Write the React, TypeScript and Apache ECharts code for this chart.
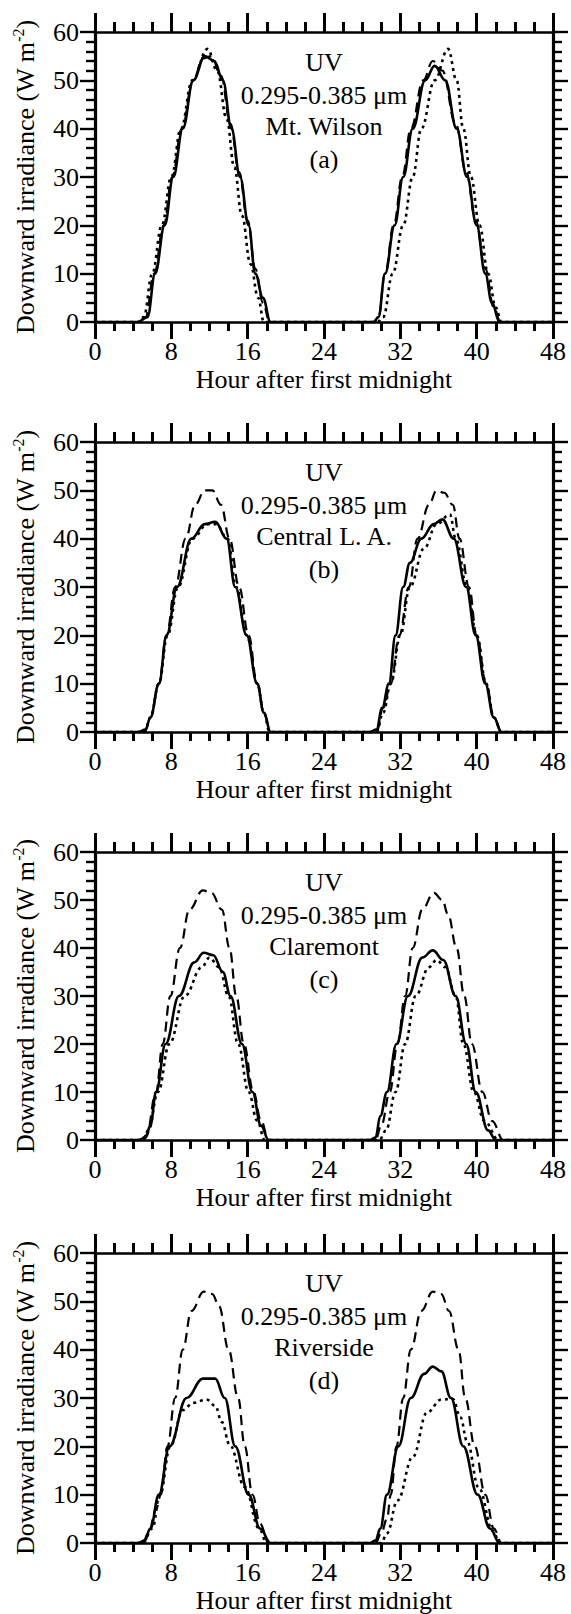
import React, { useEffect, useRef } from "react";
import * as echarts from "echarts";

// ---------- data (hour after first midnight, downward irradiance W m-2) ----------
const X_TICKS_MAX = 48;
const Y_TICKS_MAX = 60;

const SITES = ["Mt. Wilson", "Central L. A.", "Claremont", "Riverside"];
const TAGS = ["(a)", "(b)", "(c)", "(d)"];
const BAND_LABEL = "UV";
const BAND_RANGE = "0.295-0.385 \u03bcm";

const A_SOLID: number[][] = [[0,0],[4.5,0],[5.5,1],[6.3,10],[7.3,20],[8.2,30],[9.2,40],[10.3,50],[11.5,55],[12.5,54],[13.4,50],[14.3,40],[15.2,30],[16.1,20],[16.8,10],[17.6,5],[18.4,0],[29.2,0],[29.7,1],[30.4,10],[31.4,20],[32.3,30],[33.3,40],[34.6,50],[35.6,53],[36.7,50],[37.9,40],[39.0,30],[40.0,20],[40.9,10],[41.6,4],[42.4,0],[48,0]];
const A_DASHED: number[][] = [[0,0],[4.5,0],[5.3,1],[6.2,10],[7.2,20],[8.1,30],[9.1,40],[10.3,50],[11.3,54.5],[12.2,55],[13.2,51],[14.2,41],[15.1,31],[16.0,21],[16.8,11],[17.6,4],[18.3,0],[29.2,0],[29.7,1],[30.4,10],[31.3,20],[32.2,30],[33.1,40],[34.4,50],[35.4,54],[36.4,52],[37.8,41],[38.9,31],[39.9,21],[40.9,11],[41.8,3],[42.5,0],[48,0]];
const A_DOTTED: number[][] = [[0,0],[4.5,0],[5.1,1],[6.0,10],[7.0,20],[8.0,30],[9.0,40],[10.2,50],[11.8,56.5],[12.8,52],[13.8,42],[14.6,32],[15.4,22],[16.3,12],[17.1,5],[17.7,0],[29.6,0],[30.2,1],[31.2,10],[32.3,20],[33.3,30],[34.2,40],[35.6,50],[37.0,56.5],[37.9,50],[38.6,40],[39.4,30],[40.3,20],[41.2,10],[42.0,3],[42.6,0],[48,0]];

const B_SOLID: number[][] = [[0,0],[4.5,0],[5.3,0.5],[5.8,3],[6.7,10],[7.5,20],[8.6,30],[10.1,40],[11.5,43],[12.6,43.5],[13.8,40],[14.7,30],[15.9,20],[17.0,10],[17.7,4],[18.4,0],[28.8,0],[29.5,0.5],[30.1,5],[30.8,10],[31.5,20],[32.3,30],[33.0,35],[34.2,40],[35.5,43],[36.4,44],[37.6,40],[38.9,30],[39.9,20],[40.9,10],[41.8,3],[42.6,0],[48,0]];
const B_DASHED: number[][] = [[0,0],[5.2,0],[5.8,3],[6.7,10],[7.5,20],[8.4,30],[9.5,40],[10.5,47],[11.5,50],[12.3,50],[13.2,47],[14.1,40],[15.1,30],[16.1,20],[17.0,10],[17.7,4],[18.4,0],[29.5,0],[30.2,5],[31.0,10],[31.9,20],[32.9,30],[33.8,40],[35.0,47],[35.8,50],[36.6,49.5],[37.5,47],[38.2,40],[39.2,30],[40.0,20],[41.0,10],[41.8,3],[42.6,0],[48,0]];
const B_DOTTED: number[][] = [[0,0],[5.2,0],[5.8,3],[6.7,10],[7.6,20],[8.7,30],[10.2,40],[11.8,43],[12.7,43],[13.9,40],[14.8,30],[15.9,20],[17.0,10],[17.7,4],[18.3,0],[29.5,0],[30.2,4],[31.0,10],[32.0,20],[33.0,30],[34.5,38],[35.8,43],[37.2,45],[37.8,40],[39.0,30],[40.0,20],[41.0,10],[41.8,3],[42.6,0],[48,0]];

const C_SOLID: number[][] = [[0,0],[4.5,0],[5.3,0.5],[5.8,3],[6.4,10],[7.4,20],[8.8,30],[10.4,37],[11.4,39],[12.4,38.5],[13.4,35],[14.2,30],[15.4,20],[16.5,10],[17.4,3],[18.2,0],[28.8,0],[29.4,0.5],[29.9,5],[30.6,10],[31.6,20],[32.8,30],[34.3,38],[35.4,39.5],[36.5,37.5],[37.8,30],[38.9,20],[39.9,10],[41.2,2],[42.0,0],[48,0]];
const C_DASHED: number[][] = [[0,0],[4.8,0],[5.4,1],[6.4,10],[7.1,20],[7.9,30],[8.9,40],[9.9,48],[11.3,52],[12.2,51.5],[13.3,48],[14.1,40],[14.8,30],[15.6,20],[16.6,10],[17.4,4],[18.2,0],[29.4,0],[30.0,3],[30.9,10],[31.7,20],[32.5,30],[33.3,40],[34.3,48],[35.5,51.5],[36.4,50],[37.0,47],[37.9,40],[38.7,30],[39.5,20],[40.6,10],[41.6,4],[42.8,0],[48,0]];
const C_DOTTED: number[][] = [[0,0],[5.0,0],[5.6,2],[6.6,10],[7.8,20],[9.4,30],[11.2,36],[12.0,38],[13.0,36],[14.0,30],[15.0,20],[16.1,10],[17.0,4],[17.8,0],[29.8,0],[30.5,2],[31.5,10],[32.5,20],[33.6,30],[35.0,36],[35.8,37.5],[36.7,36],[37.8,30],[38.6,20],[39.7,10],[40.8,4],[42.3,0],[48,0]];

const D_SOLID: number[][] = [[0,0],[4.5,0],[5.2,0.5],[5.8,3],[6.7,10],[7.8,20],[9.6,30],[11.3,34],[12.6,34],[13.6,30],[14.7,20],[16.1,10],[17.3,3],[18.4,0],[28.8,0],[29.4,0.5],[29.9,3],[30.6,10],[31.8,20],[33.1,30],[34.5,35],[35.4,36.5],[36.3,35.5],[37.3,30],[38.6,20],[40.1,10],[41.4,3],[42.4,0],[48,0]];
const D_DASHED: number[][] = [[0,0],[5.0,0],[5.6,2],[6.4,7],[6.9,10],[7.6,20],[8.4,30],[9.2,40],[10.1,48],[11.4,52],[12.3,51.5],[13.0,49],[14.0,40],[15.0,30],[15.7,20],[16.5,10],[17.3,4],[18.2,0],[29.4,0],[30.0,2],[30.6,5],[31.0,10],[31.6,20],[32.3,30],[33.1,40],[34.2,48],[35.4,52],[36.3,51.5],[37.1,48],[38.1,40],[38.8,30],[39.8,20],[40.9,10],[41.8,3],[42.6,0],[48,0]];
const D_DOTTED: number[][] = [[0,0],[5.0,0],[6.0,3],[6.8,10],[7.9,20],[9.2,27.5],[10.3,29],[11.7,29.7],[12.6,28.4],[13.3,25],[14.1,20.4],[15.7,11.6],[17.2,3],[18.0,0],[30.0,0],[30.6,2],[31.7,8.8],[33.3,17.8],[34.8,27],[36.3,29.7],[37.5,29.8],[38.3,26],[39.0,21],[40.2,11.5],[41.7,2.5],[42.4,0],[48,0]];

const PANELS = [
  { solid: A_SOLID, dashed: A_DASHED, dotted: A_DOTTED },
  { solid: B_SOLID, dashed: B_DASHED, dotted: B_DOTTED },
  { solid: C_SOLID, dashed: C_DASHED, dotted: C_DOTTED },
  { solid: D_SOLID, dashed: D_DASHED, dotted: D_DOTTED },
];

// ---------- layout / style ----------
const W = 571;
const H = 1614;
const GRID_LEFT = 95;
const GRID_WIDTH = 458;
const GRID_TOPS = [32, 442, 852, 1253];
const GRID_HEIGHTS = [290, 290, 288, 290];
const FONT = '"Liberation Serif", "Times New Roman", serif';
const ANNOT_OFFSETS = [30, 63, 94, 127];

function buildOption() {
  const grid: any[] = [];
  const xAxis: any[] = [];
  const yAxis: any[] = [];
  const series: any[] = [];
  const graphic: any[] = [];

  const xLine = { show: true, onZero: false, lineStyle: { color: "#000", width: 2.5 } };
  const yLine = { show: true, onZero: false, lineStyle: { color: "#000", width: 3.2 } };

  PANELS.forEach((p, i) => {
    const gh = GRID_HEIGHTS[i];
    grid.push({ left: GRID_LEFT, width: GRID_WIDTH, top: GRID_TOPS[i], height: gh, containLabel: false });

    const xCommon = {
      type: "value",
      gridIndex: i,
      min: 0,
      max: X_TICKS_MAX,
      interval: 8,
      axisLine: xLine,
      splitLine: { show: false },
      minorSplitLine: { show: false },
      axisTick: { show: true, inside: false, length: 17, lineStyle: { color: "#000", width: 3 } },
      minorTick: { show: true, splitNumber: 4, length: 9, lineStyle: { color: "#000", width: 3 } },
    };
    xAxis.push({
      ...xCommon,
      position: "bottom",
      axisLabel: { show: true, color: "#000", fontSize: 26, fontFamily: FONT, margin: 16 },
      name: "Hour after first midnight",
      nameLocation: "middle",
      nameGap: 44,
      nameMoveOverlap: false,
      nameTextStyle: { color: "#000", fontSize: 26, fontFamily: FONT },
    });
    xAxis.push({
      ...xCommon,
      position: "top",
      axisLabel: { show: false },
      axisTick: { ...xCommon.axisTick, length: 19 },
      minorTick: { ...xCommon.minorTick, length: 10 },
    });

    const yCommon = {
      type: "value",
      gridIndex: i,
      min: 0,
      max: Y_TICKS_MAX,
      interval: 10,
      axisLine: yLine,
      splitLine: { show: false },
      minorSplitLine: { show: false },
      axisTick: { show: true, inside: false, length: 15, lineStyle: { color: "#000", width: 2.4 } },
      minorTick: { show: true, splitNumber: 5, length: 9, lineStyle: { color: "#000", width: 2.4 } },
    };
    yAxis.push({
      ...yCommon,
      position: "left",
      axisLabel: { show: true, color: "#000", fontSize: 26, fontFamily: FONT, margin: 16 },
      name: "Downward irradiance (W m{sup|-2})",
      nameLocation: "middle",
      nameGap: 55,
      nameMoveOverlap: false,
      nameTextStyle: {
        color: "#000",
        fontSize: 26,
        fontFamily: FONT,
        lineHeight: 30,
        rich: { sup: { fontSize: 16, fontFamily: FONT, color: "#000", verticalAlign: "top", lineHeight: 14 } },
      },
    });
    yAxis.push({ ...yCommon, position: "right", axisLabel: { show: false } });

    const base = {
      type: "line",
      xAxisIndex: 2 * i,
      yAxisIndex: 2 * i,
      showSymbol: false,
      symbol: "none",
      smooth: 0.4,
      smoothMonotone: "x",
      silent: true,
    };
    series.push({ ...base, name: "dotted" + i, data: p.dotted, lineStyle: { color: "#000", width: 2.6, type: [3, 4] }, z: 2 });
    series.push({ ...base, name: "dashed" + i, data: p.dashed, lineStyle: { color: "#000", width: 2.2, type: [10, 6] }, z: 3 });
    series.push({ ...base, name: "solid" + i, data: p.solid, lineStyle: { color: "#000", width: 2.6, type: "solid" }, z: 4 });

    const lines = [BAND_LABEL, BAND_RANGE, SITES[i], TAGS[i]];
    lines.forEach((t, k) => {
      graphic.push({
        type: "text",
        x: GRID_LEFT + GRID_WIDTH / 2,
        y: GRID_TOPS[i] + ANNOT_OFFSETS[k],
        z: 10,
        style: {
          text: t,
          fill: "#000",
          fontSize: 26,
          fontFamily: FONT,
          align: "center",
          verticalAlign: "middle",
          textAlign: "center",
          textVerticalAlign: "middle",
        },
      });
    });
  });

  return {
    animation: false,
    backgroundColor: "#fff",
    grid,
    xAxis,
    yAxis,
    series,
    graphic,
  };
}

export default function App() {
  const ref = useRef<HTMLDivElement | null>(null);
  useEffect(() => {
    document.body.style.margin = "0";
    if (!ref.current) return;
    const chart = echarts.init(ref.current, undefined, { renderer: "svg" });
    chart.setOption(buildOption() as any);
    return () => chart.dispose();
  }, []);
  return <div ref={ref} style={{ width: W, height: H, background: "#fff" }} />;
}
